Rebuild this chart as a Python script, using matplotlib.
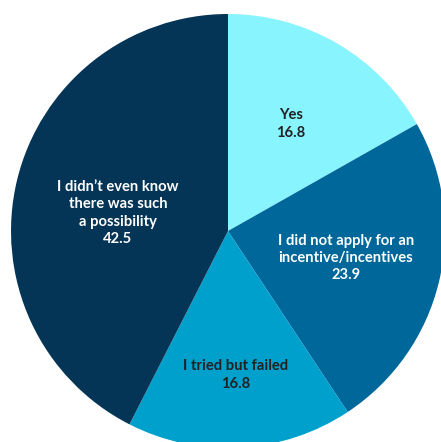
import matplotlib.pyplot as plt

labels = ["Yes", "I did not apply for an\nincentive/incentives", "I tried but failed",
          "I didn\u2019t even know\nthere was such\na possibility"]
values = [16.8, 23.9, 16.8, 42.5]
colors = ["#88F4FE", "#00679A", "#00A0CC", "#053556"]
text_colors = ["#222222", "white", "#222222", "white"]
# label anchor positions inside each slice (pixel coords, y from bottom)
label_pos = [(291, 318), (346, 184), (236, 67), (118, 229)]

fig = plt.figure(figsize=(4.41, 4.42), dpi=100)
ax = fig.add_axes([0, 0, 1, 1])
ax.pie(values, colors=colors, startangle=90, counterclock=False,
       center=(228, 211), radius=217,
       wedgeprops=dict(linewidth=0))
ax.set_xlim(0, 441)
ax.set_ylim(0, 442)
ax.set_aspect("equal")
ax.axis("off")

for lab, val, c, (x, y) in zip(labels, values, text_colors, label_pos):
    ax.text(x, y, f"{lab}\n{val}", ha="center", va="center", color=c,
            fontsize=10.6, fontweight="bold", family=["Lato", "DejaVu Sans"],
            linespacing=1.28)

fig.savefig("out.png", dpi=100)
